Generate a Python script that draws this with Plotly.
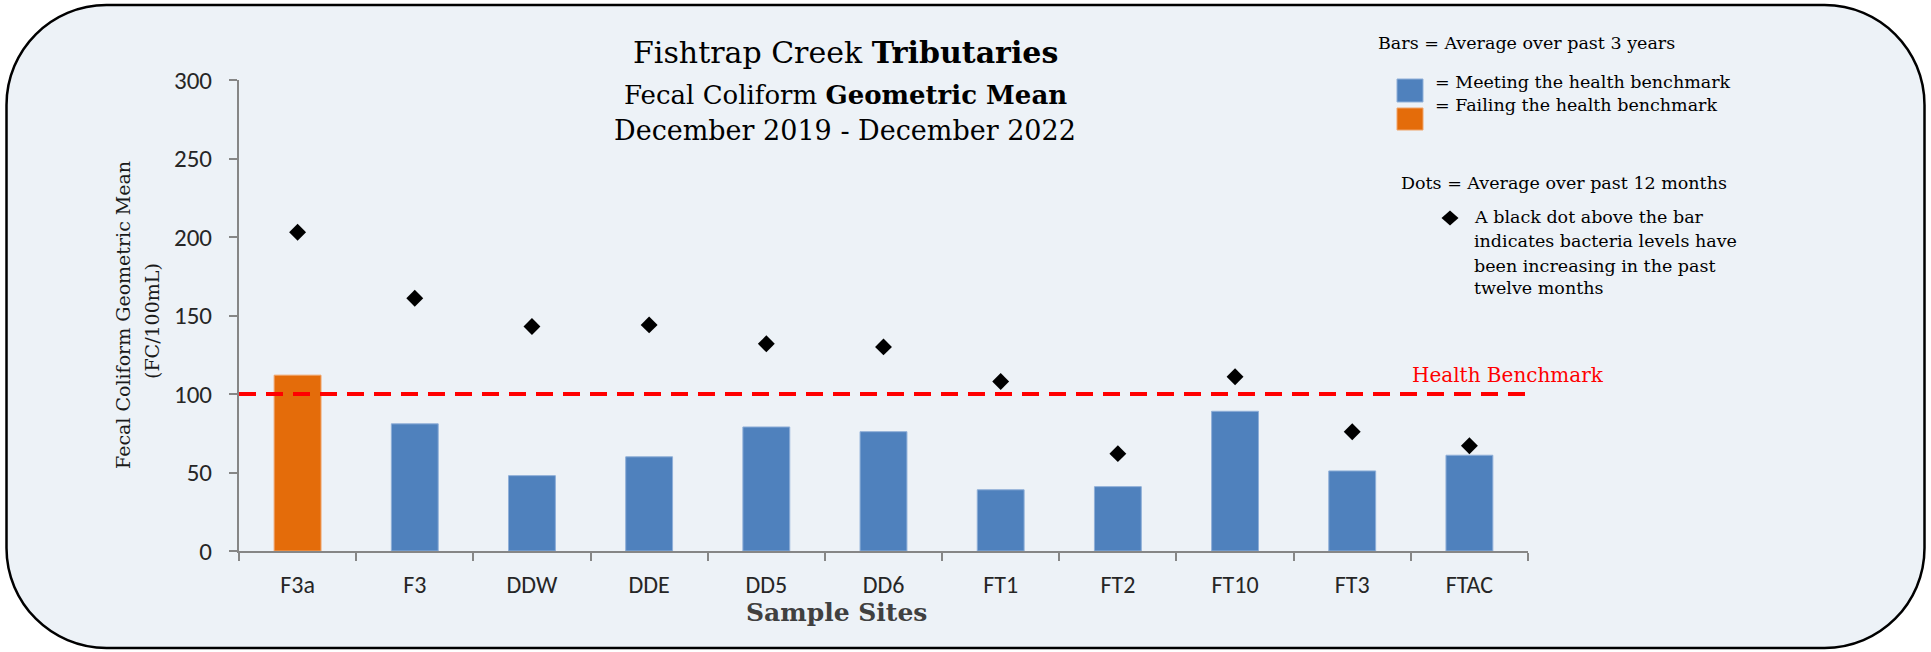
import plotly.graph_objects as go

# ---------------- data ----------------
sites = ["F3a", "F3", "DDW", "DDE", "DD5", "DD6", "FT1", "FT2", "FT10", "FT3", "FTAC"]
three_year_mean = [112, 81, 48, 60, 79, 76, 39, 41, 89, 51, 61]      # bars
twelve_month_mean = [203, 161, 143, 144, 132, 130, 108, 62, 111, 76, 67]  # dots
benchmark = 100
y_ticks = [0, 50, 100, 150, 200, 250, 300]

# ---------------- geometry helpers ----------------
W, H = 1931, 652
L, R, T, B = 239, 1528, 80, 551   # plot area in px


def px(x):
    return (x - L) / (R - L)


def py(y):
    return (B - y) / (B - T)


BLUE = "#4F81BD"
ORANGE = "#E46C0A"
BG = "#EDF2F7"
AXIS = "#868686"
SERIF = "DejaVu Serif, Liberation Serif, serif"
SANS = "Carlito, Liberation Sans, Arial, sans-serif"

bar_colors = [ORANGE if v > benchmark else BLUE for v in three_year_mean]
bar_edges = ["#F0A46A" if v > benchmark else "#8FAFD8" for v in three_year_mean]

fig = go.Figure()
fig.add_trace(go.Bar(
    x=sites, y=three_year_mean, width=0.4,
    marker=dict(color=bar_colors, line=dict(color=bar_edges, width=1)),
    showlegend=False, hoverinfo="x+y",
))
fig.add_trace(go.Scatter(
    x=sites, y=twelve_month_mean, mode="markers",
    marker=dict(symbol="diamond", size=13, color="black"),
    showlegend=False, cliponaxis=False, hoverinfo="x+y",
))

shapes = []
# rounded background panel
x0, y0, x1, y1, r = 6.5, 5, 1924.5, 648, 100
k = 0.5523 * r


def P(x, y):
    return f"{px(x):.6f},{py(y):.6f}"


path = (
    f"M {P(x0 + r, y0)} L {P(x1 - r, y0)} "
    f"C {P(x1 - r + k, y0)} {P(x1, y0 + r - k)} {P(x1, y0 + r)} "
    f"L {P(x1, y1 - r)} "
    f"C {P(x1, y1 - r + k)} {P(x1 - r + k, y1)} {P(x1 - r, y1)} "
    f"L {P(x0 + r, y1)} "
    f"C {P(x0 + r - k, y1)} {P(x0, y1 - r + k)} {P(x0, y1 - r)} "
    f"L {P(x0, y0 + r)} "
    f"C {P(x0, y0 + r - k)} {P(x0 + r - k, y0)} {P(x0 + r, y0)} Z"
)
shapes.append(dict(type="path", xref="paper", yref="paper", path=path,
                   fillcolor=BG, line=dict(color="black", width=2.5), layer="below"))

# health benchmark line
shapes.append(dict(type="line", xref="paper", yref="y", x0=0, x1=px(1533),
                   y0=benchmark, y1=benchmark,
                   line=dict(color="#FF0000", width=4, dash="17px,10px"), layer="above"))

# legend squares
shapes.append(dict(type="rect", xref="paper", yref="paper",
                   x0=px(1397), x1=px(1423), y0=py(79), y1=py(102),
                   fillcolor=BLUE, line=dict(color="#8FAFD8", width=1)))
shapes.append(dict(type="rect", xref="paper", yref="paper",
                   x0=px(1397), x1=px(1423), y0=py(108), y1=py(130),
                   fillcolor=ORANGE, line=dict(color="#F0A46A", width=1)))
# legend diamond
cx, cy, hw, hh = 1450, 218, 8.5, 7.5
shapes.append(dict(type="path", xref="paper", yref="paper",
                   path=f"M {P(cx - hw, cy)} L {P(cx, cy - hh)} L {P(cx + hw, cy)} L {P(cx, cy + hh)} Z",
                   fillcolor="black", line=dict(color="black", width=0)))

annotations = []


def ann(text, x, y, size, xanchor="left", color="black", family=SERIF, angle=0):
    annotations.append(dict(
        text=text, x=px(x), y=py(y), xref="paper", yref="paper",
        xanchor=xanchor, yanchor="middle", showarrow=False, textangle=angle,
        font=dict(family=family, size=size, color=color),
    ))


# titles
ann("Fishtrap Creek <b>Tributaries</b>", 845, 52, 30, "center")
ann("Fecal Coliform <b>Geometric Mean</b>", 845, 95, 26, "center")
ann("December 2019 - December 2022", 845, 130, 27, "center")

# axis titles
ann("Fecal Coliform Geometric Mean", 123, 315, 19, "center", "#1a1a1a", angle=-90)
ann("(FC/100mL)", 152, 321, 19, "center", "#1a1a1a", angle=-90)
ann("<b>Sample Sites</b>", 836, 612, 25, "center", "#404040")

# benchmark label
ann("Health Benchmark", 1410, 375, 20, "left", "#FF0000")

# legend texts
ann("Bars = Average over past 3 years", 1376, 43, 17.5)
ann("= Meeting the health benchmark", 1433, 82, 17.5)
ann("= Failing the health benchmark", 1433, 105, 17.5)
ann("Dots = Average over past 12 months", 1399, 183, 17.5)
ann("A black dot above the bar", 1472, 217, 17.5)
ann("indicates bacteria levels have", 1472, 241, 17.5)
ann("been increasing in the past", 1472, 266, 17.5)
ann("twelve months", 1472, 288, 17.5)

fig.update_layout(
    width=W, height=H,
    margin=dict(l=L, r=W - R, t=T, b=H - B, pad=0),
    paper_bgcolor="white", plot_bgcolor="rgba(0,0,0,0)",
    shapes=shapes, annotations=annotations,
    bargap=0.6, showlegend=False,
)
fig.update_xaxes(
    type="category", range=[-0.5, len(sites) - 0.5], tickson="boundaries",
    showline=True, linecolor=AXIS, linewidth=2,
    ticks="outside", ticklen=8, tickwidth=2, tickcolor=AXIS,
    tickfont=dict(family=SANS, size=24, color="#262626"),
    ticklabelstandoff=11, showgrid=False, zeroline=False,
)
fig.update_yaxes(
    range=[0, 300], tickvals=y_ticks, ticktext=[str(v) for v in y_ticks],
    showline=True, linecolor=AXIS, linewidth=2,
    ticks="outside", ticklen=8, tickwidth=2, tickcolor=AXIS,
    tickfont=dict(family=SANS, size=25, color="#262626"),
    ticklabelstandoff=12, showgrid=False, zeroline=False,
)

fig.write_html(
    "out.html",
    config={"displayModeBar": False},
    post_script="document.body.style.margin='0';document.body.style.overflow='hidden';",
)
